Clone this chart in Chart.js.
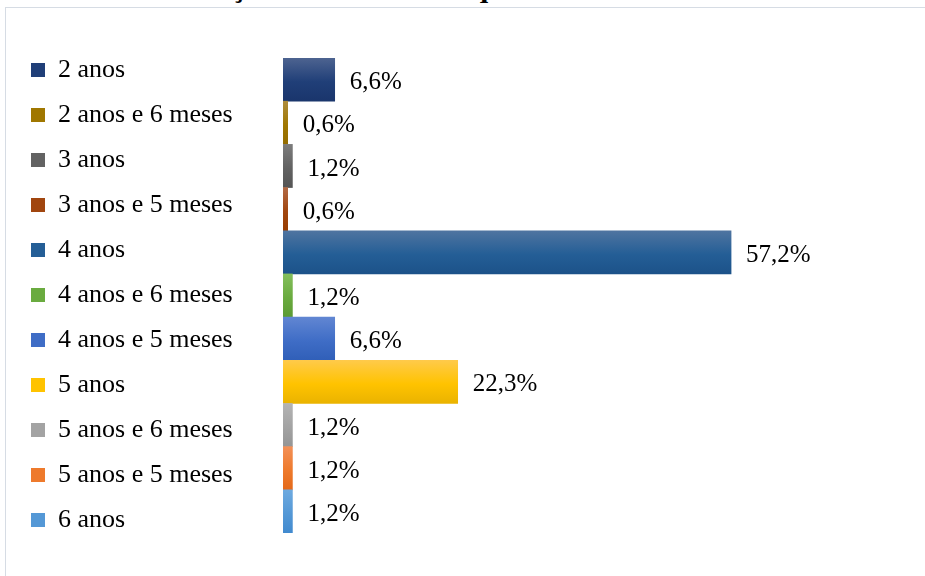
<!DOCTYPE html>
<html lang="pt">
<head>
<meta charset="utf-8">
<title>Duração dos cursos</title>
<script src="https://cdn.jsdelivr.net/npm/chart.js@4/dist/chart.umd.min.js"></script>
<style>
  html, body { margin: 0; padding: 0; background: #fff; overflow: hidden; }
  .heading {
    position: absolute; left: 14px; top: -28px; margin: 0;
    font: bold 30px/1 "Liberation Serif", "Times New Roman", serif;
    white-space: nowrap; color: #000;
  }
  .frame {
    position: absolute; left: 5px; top: 7px; width: 960px; height: 620px;
    border: 1px solid #d6dce4;
  }
  .wrap { position: absolute; left: 0; top: 0; width: 925px; height: 576px; }
</style>
</head>
<body>
<p class="heading">Gráfico 3 – Duração dos cursos aos quais os estudantes estão vinculados</p>
<div class="frame"></div>
<div class="wrap"><canvas id="duracao"></canvas></div>
<script>
// durations and share of students (%)
const categories = [
  '2 anos', '2 anos e 6 meses', '3 anos', '3 anos e 5 meses', '4 anos',
  '4 anos e 6 meses', '4 anos e 5 meses', '5 anos', '5 anos e 6 meses',
  '5 anos e 5 meses', '6 anos'
];
const percentages = [6.6, 0.6, 1.2, 0.6, 57.2, 1.2, 6.6, 22.3, 1.2, 1.2, 1.2];

// light / base / dark stop for each bar's vertical gradient
const shades = [
  ['#4d6390', '#203f78', '#1a356c'],
  ['#ae8c3c', '#a07700', '#936c00'],
  ['#7c7c7c', '#626262', '#555555'],
  ['#b26a45', '#a1460f', '#983c00'],
  ['#4f74a0', '#245e96', '#1c5289'],
  ['#84bf5c', '#6aab3f', '#5c9b33'],
  ['#6186d2', '#3f6dc6', '#305fb8'],
  ['#ffca4a', '#ffc300', '#eab300'],
  ['#b4b4b4', '#a3a3a3', '#959595'],
  ['#f39057', '#ee7a2c', '#e4691a'],
  ['#6eaae0', '#5498d6', '#418acf']
];

const serif = '"Liberation Serif", "Times New Roman", serif';

function barFill(context) {
  const i = context.dataIndex;
  const chart = context.chart;
  const area = chart.chartArea;
  if (!area || i === undefined) return shades[i] ? shades[i][1] : '#999';
  const y = chart.scales.y;
  const band = (area.bottom - area.top) / categories.length;
  const mid = y.getPixelForValue(i);
  const g = chart.ctx.createLinearGradient(0, mid - band / 2, 0, mid + band / 2);
  g.addColorStop(0, shades[i][0]);
  g.addColorStop(0.55, shades[i][1]);
  g.addColorStop(1, shades[i][2]);
  return g;
}

// percentage text to the right of each bar
const valueLabels = {
  id: 'valueLabels',
  afterDatasetsDraw(chart) {
    const ctx = chart.ctx;
    const meta = chart.getDatasetMeta(0);
    ctx.save();
    ctx.font = '25px ' + serif;
    ctx.fillStyle = '#000';
    ctx.textAlign = 'left';
    ctx.textBaseline = 'middle';
    meta.data.forEach((bar, i) => {
      const txt = percentages[i].toFixed(1).replace('.', ',') + '%';
      ctx.fillText(txt, bar.x + 15, bar.y + 3);
    });
    ctx.restore();
  }
};

const hidden = {
  ticks: { display: false },
  grid: { display: false },
  border: { display: false }
};

const padLeft = 12;

new Chart(document.getElementById('duracao'), {
  type: 'bar',
  data: {
    labels: categories,
    datasets: [{
      data: percentages,
      backgroundColor: barFill,
      borderWidth: 0,
      categoryPercentage: 1,
      barPercentage: 1
    }]
  },
  options: {
    indexAxis: 'y',
    responsive: true,
    maintainAspectRatio: false,
    animation: false,
    layout: { padding: { left: padLeft, top: 14, right: 172, bottom: 0 } },
    scales: {
      x: {
        ...hidden,
        position: 'bottom',
        min: 0,
        max: 60,
        afterFit: (s) => { s.height = 43; }
      },
      xTop: {
        ...hidden,
        type: 'linear',
        position: 'top',
        min: 0,
        max: 60,
        afterFit: (s) => { s.height = 44; }
      },
      y: {
        ...hidden,
        afterFit: (s) => { s.width = 283 - padLeft - s.chart.legend.width; }
      }
    },
    plugins: {
      tooltip: { enabled: false },
      legend: {
        position: 'left',
        maxWidth: 400,
        onClick: () => {},
        labels: {
          boxWidth: 14,
          boxHeight: 14,
          padding: 19,
          color: '#000',
          font: { family: serif, size: 26 },
          generateLabels: () => categories.map((c, i) => ({
            text: c,
            fillStyle: shades[i][1],
            strokeStyle: shades[i][1],
            lineWidth: 0,
            hidden: false,
            index: i
          }))
        }
      }
    }
  },
  plugins: [valueLabels]
});
</script>
</body>
</html>
